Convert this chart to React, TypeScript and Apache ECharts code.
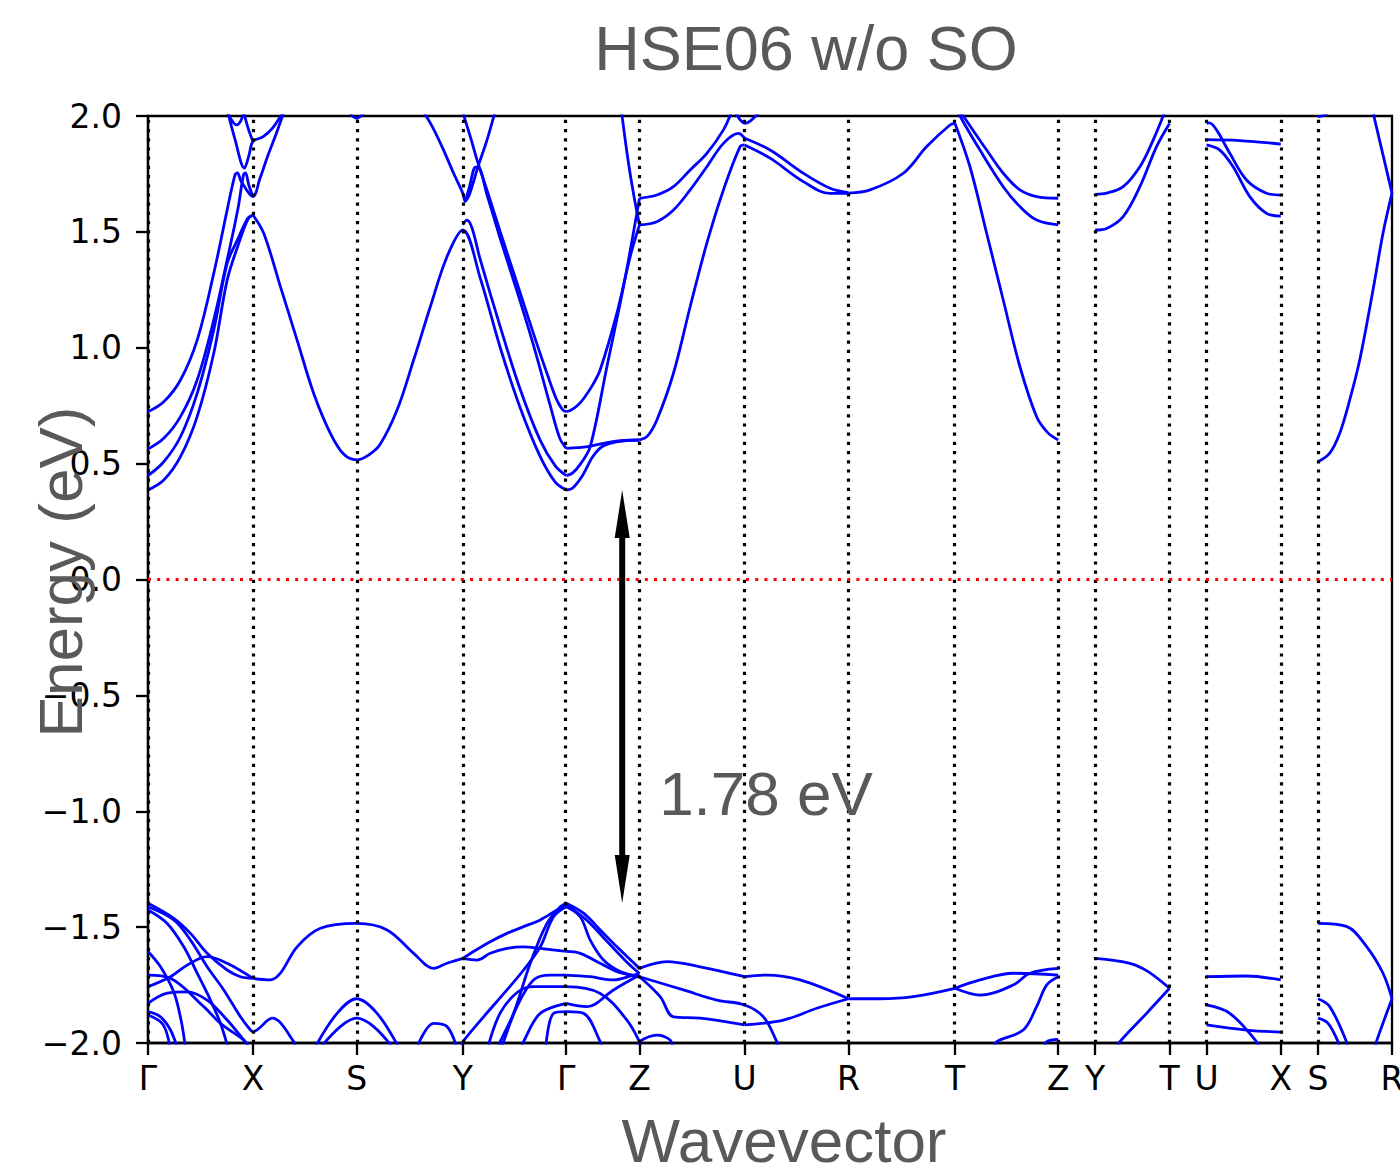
import React, { useEffect, useRef } from 'react';
import * as echarts from 'echarts';

// High-symmetry path positions (k distance) and labels
const kNodes = [0, 1.05, 2.088, 3.15, 4.185, 4.918, 5.97, 7.008, 8.075, 9.108, 9.478, 10.222, 10.592, 11.335, 11.708, 12.448];
const kLabels = ['Γ', 'X', 'S', 'Y', 'Γ', 'Z', 'U', 'R', 'T', 'Z', 'Y', 'T', 'U', 'X', 'S', 'R'];
const energyTicks = { min: -2, max: 2, step: 0.5 };
const gapArrow = [4.745, 0.386, -1.396]; // k, CBM, VBM
const gapText = '1.78 eV';
const titleText = 'HSE06 w/o SO';
const xTitle = 'Wavevector';
const yTitle = 'Energy (eV)';

// ---------- conduction bands ----------
const cbGX = [
  [[0, 0.724], [0.158, 0.767], [0.325, 0.861], [0.492, 1.033], [0.658, 1.321], [0.792, 1.594], [0.87, 1.745], [0.895, 1.755], [0.93, 1.72], [1.05, 1.652], [1.12, 1.73], [1.2, 1.83], [1.28, 1.92], [1.37, 2.03]],
  [[0, 0.563], [0.158, 0.609], [0.325, 0.703], [0.492, 0.861], [0.658, 1.12], [0.792, 1.379], [0.9, 1.6], [0.955, 1.745], [0.975, 1.755], [1.01, 1.7], [1.05, 1.652]],
  [[0, 0.448], [0.158, 0.508], [0.325, 0.616], [0.492, 0.803], [0.658, 1.077], [0.792, 1.364], [0.9, 1.47], [1.0, 1.56], [1.05, 1.573]],
  [[0, 0.386], [0.158, 0.429], [0.325, 0.53], [0.492, 0.703], [0.658, 0.976], [0.792, 1.292], [0.9, 1.44], [1.0, 1.555], [1.05, 1.573]],
  [[0.78, 2.05], [0.87, 1.9], [0.965, 1.775], [1.01, 1.83], [1.05, 1.89], [1.15, 1.91], [1.25, 1.95], [1.37, 2.03]],
  [[0.95, 2.03], [1.0, 1.95], [1.05, 1.89]],
  [[0.77, 2.03], [0.84, 1.98], [0.885, 1.962], [0.93, 1.98], [0.965, 2.03]],
];
const cbXSY = [
  [[1.05, 1.573], [1.158, 1.494], [1.325, 1.264], [1.492, 1.033], [1.658, 0.803], [1.825, 0.631], [1.96, 0.54], [2.088, 0.516], [2.21, 0.538], [2.325, 0.585], [2.492, 0.731], [2.658, 0.947], [2.825, 1.177], [2.992, 1.393], [3.15, 1.508], [3.325, 1.3], [3.525, 1.0], [3.725, 0.74], [3.925, 0.53], [4.075, 0.42], [4.185, 0.386]],
  [[1.99, 2.03], [2.088, 1.99], [2.19, 2.03]],
  [[2.74, 2.03], [2.85, 1.95], [2.95, 1.86], [3.058, 1.753], [3.15, 1.667], [3.175, 1.632], [3.21, 1.655], [3.242, 1.695], [3.308, 1.789], [3.392, 1.896], [3.48, 2.03]],
];
const cbYG = [
  [[3.14, 2.03], [3.225, 1.911], [3.3, 1.8], [3.392, 1.68], [3.525, 1.5], [3.692, 1.28], [3.858, 1.06], [4.0, 0.88], [4.09, 0.775], [4.15, 0.732], [4.185, 0.724]],
  [[3.175, 1.632], [3.22, 1.7], [3.265, 1.775], [3.3, 1.78], [3.392, 1.66], [3.525, 1.47], [3.692, 1.245], [3.858, 1.01], [4.025, 0.75], [4.12, 0.61], [4.185, 0.566]],
  [[3.15, 1.53], [3.19, 1.551], [3.24, 1.52], [3.325, 1.38], [3.525, 1.09], [3.725, 0.82], [3.925, 0.6], [4.075, 0.49], [4.185, 0.448]],
];
const cbGZ = [
  [[4.185, 0.386], [4.25, 0.395], [4.35, 0.45], [4.45, 0.53], [4.55, 0.575], [4.7, 0.595], [4.918, 0.602]],
  [[4.185, 0.566], [4.4, 0.573], [4.65, 0.595], [4.918, 0.602]],
  [[4.185, 0.448], [4.25, 0.46], [4.33, 0.5], [4.425, 0.573], [4.592, 0.918], [4.758, 1.264], [4.892, 1.58], [4.918, 1.645]],
  [[4.185, 0.724], [4.23, 0.73], [4.3, 0.752], [4.358, 0.78], [4.45, 0.84], [4.525, 0.905], [4.692, 1.149], [4.825, 1.393], [4.918, 1.53]],
  [[4.735, 2.03], [4.8, 1.82], [4.86, 1.66], [4.918, 1.53]],
];
const cbZURTZ = [
  [[4.918, 1.645], [5.092, 1.659], [5.258, 1.695], [5.425, 1.767], [5.592, 1.839], [5.758, 1.94], [5.85, 2.03]],
  [[4.918, 1.53], [5.092, 1.544], [5.258, 1.594], [5.425, 1.681], [5.592, 1.781], [5.758, 1.882], [5.908, 1.925], [5.97, 1.904]],
  [[4.918, 0.602], [5.0, 0.62], [5.092, 0.688], [5.258, 0.89], [5.425, 1.177], [5.592, 1.451], [5.758, 1.681], [5.925, 1.868], [5.97, 1.875]],
  [[5.86, 2.03], [5.975, 1.968], [6.14, 2.03]],
  [[5.97, 1.904], [6.225, 1.853], [6.558, 1.753], [6.825, 1.688], [7.008, 1.669]],
  [[5.97, 1.875], [6.225, 1.818], [6.558, 1.717], [6.825, 1.666], [7.008, 1.666]],
  [[7.008, 1.667], [7.225, 1.681], [7.558, 1.753], [7.792, 1.868], [8.025, 1.961], [8.075, 1.968]],
  [[8.075, 1.968], [8.225, 1.781], [8.392, 1.494], [8.558, 1.206], [8.725, 0.918], [8.892, 0.702], [9.0, 0.635], [9.108, 0.602]],
  [[8.11, 2.03], [8.158, 2.0], [8.392, 1.853], [8.558, 1.753], [8.725, 1.681], [8.892, 1.652], [9.108, 1.645]],
  [[8.1, 2.03], [8.125, 2.0], [8.325, 1.853], [8.558, 1.695], [8.725, 1.609], [8.892, 1.551], [9.108, 1.53]],
];
const cbYT = [
  [[9.478, 1.662], [9.592, 1.667], [9.758, 1.695], [9.925, 1.781], [10.058, 1.896], [10.158, 2.0], [10.18, 2.03]],
  [[9.478, 1.508], [9.592, 1.515], [9.758, 1.566], [9.925, 1.695], [10.092, 1.868], [10.222, 1.968]],
];
const cbUX = [
  [[10.592, 1.968], [10.62, 1.97], [10.692, 1.94], [10.825, 1.839], [10.992, 1.724], [11.192, 1.667], [11.335, 1.659]],
  [[10.592, 1.898], [10.925, 1.894], [11.335, 1.879]],
  [[10.592, 1.875], [10.725, 1.853], [10.858, 1.781], [11.025, 1.652], [11.192, 1.58], [11.335, 1.568]],
];
const cbSR = [
  [[11.708, 0.508], [11.825, 0.545], [11.925, 0.631], [12.025, 0.775], [12.125, 0.947], [12.258, 1.249], [12.358, 1.494], [12.448, 1.667]],
  [[12.25, 2.03], [12.448, 1.667]],
  [[11.708, 1.997], [11.78, 2.005], [11.84, 2.03]],
];

// ---------- valence bands ----------
const vbGX = [
  [[0, -1.397], [0.258, -1.462], [0.425, -1.527], [0.592, -1.613], [0.792, -1.685], [0.925, -1.714], [1.05, -1.721]],
  [[0, -1.412], [0.258, -1.469], [0.425, -1.556], [0.592, -1.671], [0.758, -1.771], [0.925, -1.887], [1.025, -1.944], [1.05, -1.951], [1.242, -1.893], [1.458, -1.994], [1.47, -2.02]],
  [[0, -1.426], [0.192, -1.484], [0.358, -1.585], [0.492, -1.699], [0.625, -1.815], [0.725, -1.915], [0.8, -2.02]],
  [[0, -1.605], [0.125, -1.671], [0.258, -1.78], [0.33, -1.9], [0.375, -2.02]],
  [[0, -1.707], [0.225, -1.721], [0.558, -1.843], [0.725, -1.915], [0.958, -1.987], [1.0, -2.01]],
  [[0, -1.829], [0.192, -1.785], [0.392, -1.779], [0.592, -1.815], [0.792, -1.901], [0.958, -1.987], [1.0, -2.01]],
  [[0, -1.757], [0.225, -1.714], [0.392, -1.664], [0.592, -1.627], [0.792, -1.656], [1.05, -1.721]],
  [[0, -1.865], [0.125, -1.887], [0.225, -1.944], [0.292, -2.02]],
  [[0, -1.879], [0.15, -1.92], [0.22, -2.02]],
];
const vbXSY = [
  [[1.05, -1.721], [1.225, -1.728], [1.325, -1.699], [1.492, -1.585], [1.725, -1.505], [2.088, -1.484], [2.392, -1.512], [2.658, -1.613], [2.858, -1.678], [2.992, -1.656], [3.15, -1.635]],
  [[1.67, -2.02], [1.892, -1.872], [2.088, -1.809], [2.292, -1.872], [2.51, -2.02]],
  [[1.725, -2.02], [1.925, -1.929], [2.088, -1.893], [2.258, -1.929], [2.45, -2.02]],
  [[2.69, -2.02], [2.858, -1.915], [2.992, -1.929], [3.09, -2.02]],
];
const vbYG = [
  [[3.15, -1.635], [3.258, -1.605], [3.425, -1.563], [3.592, -1.527], [3.758, -1.498], [3.925, -1.469], [4.092, -1.426], [4.185, -1.404]],
  [[3.15, -1.635], [3.292, -1.642], [3.425, -1.613], [3.592, -1.592], [3.758, -1.585], [3.925, -1.592], [4.185, -1.605]],
  [[3.13, -2.02], [3.152, -1.994], [3.358, -1.887], [3.592, -1.771], [3.758, -1.685], [3.925, -1.585], [4.058, -1.455], [4.185, -1.412]],
  [[3.51, -2.02], [3.525, -1.994], [3.658, -1.872], [3.825, -1.656], [3.992, -1.484], [4.125, -1.412], [4.185, -1.397]],
  [[3.54, -2.02], [3.558, -1.994], [3.692, -1.843], [3.858, -1.728], [4.025, -1.707], [4.185, -1.707]],
  [[3.74, -2.02], [3.758, -1.994], [3.925, -1.872], [4.185, -1.829]],
  [[3.98, -2.02], [4.058, -1.872], [4.192, -1.865], [4.358, -1.872], [4.525, -1.994], [4.54, -2.02]],
  [[3.4, -2.02], [3.525, -1.87], [3.7, -1.78], [3.858, -1.757], [4.185, -1.757], [4.525, -1.786], [4.792, -1.901], [4.918, -1.994], [4.93, -2.02]],
];
const vbGZ = [
  [[4.185, -1.397], [4.358, -1.44], [4.525, -1.512], [4.692, -1.585], [4.918, -1.678]],
  [[4.185, -1.412], [4.325, -1.455], [4.425, -1.556], [4.558, -1.642], [4.725, -1.692], [4.918, -1.714]],
  [[4.185, -1.404], [4.39, -1.47], [4.59, -1.56], [4.79, -1.65], [4.918, -1.7]],
  [[4.185, -1.605], [4.325, -1.613], [4.525, -1.656], [4.692, -1.692], [4.918, -1.714]],
  [[4.185, -1.707], [4.425, -1.714], [4.658, -1.728], [4.858, -1.707], [4.918, -1.7]],
  [[4.185, -1.829], [4.392, -1.843], [4.658, -1.771], [4.918, -1.707]],
];
const vbZURTZ = [
  [[4.918, -1.678], [5.192, -1.649], [5.525, -1.671], [5.97, -1.714]],
  [[4.918, -1.714], [5.125, -1.8], [5.258, -1.887], [5.525, -1.893], [5.97, -1.922]],
  [[4.918, -1.714], [5.358, -1.771], [5.692, -1.815], [5.97, -1.836], [6.158, -1.887], [6.292, -1.994], [6.31, -2.02]],
  [[4.9, -2.02], [4.918, -1.994], [5.092, -1.966], [5.225, -1.987], [5.25, -2.02]],
  [[5.97, -1.714], [6.192, -1.707], [6.525, -1.728], [7.008, -1.809]],
  [[5.97, -1.922], [6.358, -1.901], [6.692, -1.85], [7.008, -1.809]],
  [[7.008, -1.809], [7.325, -1.809], [7.658, -1.8], [8.075, -1.764]],
  [[8.075, -1.764], [8.325, -1.728], [8.658, -1.699], [9.108, -1.707]],
  [[8.075, -1.764], [8.325, -1.793], [8.658, -1.75], [8.825, -1.699], [9.108, -1.678]],
  [[8.47, -2.02], [8.492, -1.994], [8.758, -1.944], [8.892, -1.843], [8.992, -1.75], [9.108, -1.714]],
  [[8.97, -2.02], [8.992, -1.994], [9.108, -1.984]],
];
const vbYT = [
  [[9.478, -1.635], [9.825, -1.656], [10.0, -1.69], [10.222, -1.764]],
  [[9.7, -2.02], [9.725, -1.994], [9.992, -1.872], [10.222, -1.764]],
];
const vbUX = [
  [[10.592, -1.714], [10.992, -1.711], [11.335, -1.728]],
  [[10.592, -1.836], [10.825, -1.872], [11.092, -1.994], [11.11, -2.02]],
  [[10.592, -1.922], [10.992, -1.944], [11.335, -1.953]],
];
const vbSR = [
  [[11.708, -1.484], [11.992, -1.497], [12.192, -1.583], [12.358, -1.699], [12.448, -1.809]],
  [[11.708, -1.809], [11.825, -1.843], [11.992, -1.994], [12.0, -2.02]],
  [[11.708, -1.893], [11.808, -1.915], [11.908, -1.994], [11.92, -2.02]],
  [[12.28, -2.02], [12.292, -1.994], [12.448, -1.809]],
];

const labelFont = 'DejaVu Sans';
const textFont = 'Liberation Sans';
const gray = '#595959';

export default function App() {
  const ref = useRef<HTMLDivElement>(null);
  useEffect(() => {
    if (!ref.current) return;
    const chart = echarts.init(ref.current, null, { renderer: 'svg' });
    const bands = [
      ...cbGX, ...cbXSY, ...cbYG, ...cbGZ, ...cbZURTZ, ...cbYT, ...cbUX, ...cbSR,
      ...vbGX, ...vbXSY, ...vbYG, ...vbGZ, ...vbZURTZ, ...vbYT, ...vbUX, ...vbSR,
    ];
    const series: any[] = bands.map((pts) => ({
      type: 'line',
      data: pts,
      showSymbol: false,
      symbol: 'none',
      smooth: 0.35,
      clip: true,
      silent: true,
      z: 3,
      lineStyle: { color: '#0000ff', width: 2.8 },
    }));
    // high-symmetry dotted lines
    series.push({
      type: 'line',
      data: [],
      silent: true,
      z: 5,
      markLine: {
        silent: true,
        symbol: ['none', 'none'],
        label: { show: false },
        animation: false,
        lineStyle: { color: '#000', width: 3.2, type: [3.2, 6], opacity: 1 },
        emphasis: { disabled: true },
        data: kNodes.map((k) => ({ xAxis: k })),
      },
    });
    // Fermi level
    series.push({
      type: 'line',
      data: [],
      silent: true,
      z: 5,
      markLine: {
        silent: true,
        symbol: ['none', 'none'],
        label: { show: false },
        animation: false,
        lineStyle: { color: '#ff0000', width: 3, type: [3, 6.2], opacity: 1 },
        emphasis: { disabled: true },
        data: [{ yAxis: 0 }],
      },
    });
    // gap arrow
    series.push({
      type: 'custom',
      silent: true,
      z: 10,
      clip: false,
      encode: { x: 0, y: [1, 2] },
      data: [gapArrow],
      renderItem: (params: any, api: any) => {
        const top = api.coord([api.value(0), api.value(1)]);
        const bot = api.coord([api.value(0), api.value(2)]);
        const hl = 48;
        const hw = 7.5;
        return {
          type: 'group',
          children: [
            { type: 'line', shape: { x1: top[0], y1: top[1] + hl - 4, x2: bot[0], y2: bot[1] - hl + 4 }, style: { stroke: '#000', lineWidth: 6 } },
            { type: 'polygon', shape: { points: [[top[0], top[1]], [top[0] - hw, top[1] + hl], [top[0] + hw, top[1] + hl]] }, style: { fill: '#000' } },
            { type: 'polygon', shape: { points: [[bot[0], bot[1]], [bot[0] - hw, bot[1] - hl], [bot[0] + hw, bot[1] - hl]] }, style: { fill: '#000' } },
          ],
        };
      },
    });

    const labelFor = (v: number) => {
      let best = 0;
      for (let i = 0; i < kNodes.length; i++) if (Math.abs(kNodes[i] - v) < Math.abs(kNodes[best] - v)) best = i;
      return kLabels[best];
    };

    const textStyle = (text: string) => ({
      text,
      fontFamily: textFont,
      fontSize: 62,
      lineHeight: 50,
      fill: gray,
      align: 'center',
      verticalAlign: 'middle',
      textAlign: 'center',
      textVerticalAlign: 'middle',
    });

    chart.setOption({
      animation: false,
      backgroundColor: '#ffffff',
      grid: {
        left: 148, right: 8, top: 116, bottom: 132,
        outerBoundsMode: 'none',
        containLabel: false,
        show: true, borderColor: '#000', borderWidth: 2.3, backgroundColor: 'transparent',
      },
      xAxis: {
        type: 'value',
        min: 0,
        max: kNodes[kNodes.length - 1],
        axisLine: { show: true, onZero: false, lineStyle: { color: '#000', width: 2.3 } },
        axisTick: { show: true, inside: false, length: 12, customValues: kNodes, lineStyle: { color: '#000', width: 2.3 } },
        axisLabel: {
          show: true,
          customValues: kNodes,
          interval: 0,
          hideOverlap: false,
          formatter: (v: number) => labelFor(v),
          color: '#000',
          fontFamily: labelFont,
          fontSize: 33,
          margin: 19,
        },
        splitLine: { show: false },
      },
      yAxis: {
        type: 'value',
        min: energyTicks.min,
        max: energyTicks.max,
        interval: energyTicks.step,
        axisLine: { show: true, onZero: false, lineStyle: { color: '#000', width: 2.3 } },
        axisTick: { show: true, inside: false, length: 12, lineStyle: { color: '#000', width: 2.3 } },
        axisLabel: {
          formatter: (v: number) => v.toFixed(1).replace('-', '\u2212'),
          color: '#000',
          fontFamily: labelFont,
          fontSize: 33,
          margin: 26,
        },
        splitLine: { show: false },
      },
      graphic: [
        { type: 'text', x: 806, y: 48, z: 20, style: { ...textStyle(titleText), fontSize: 63 } },
        { type: 'text', x: 784, y: 1140, z: 20, style: { ...textStyle(xTitle), lineHeight: 44 } },
        { type: 'text', x: 60, y: 572, rotation: Math.PI / 2, z: 20, style: textStyle(yTitle) },
        { type: 'text', x: 766, y: 793, z: 20, style: textStyle(gapText) },
      ],
      series,
    });
    return () => chart.dispose();
  }, []);
  return <div ref={ref} style={{ position: 'absolute', left: 0, top: 0, width: 1400, height: 1175 }} />;
}
